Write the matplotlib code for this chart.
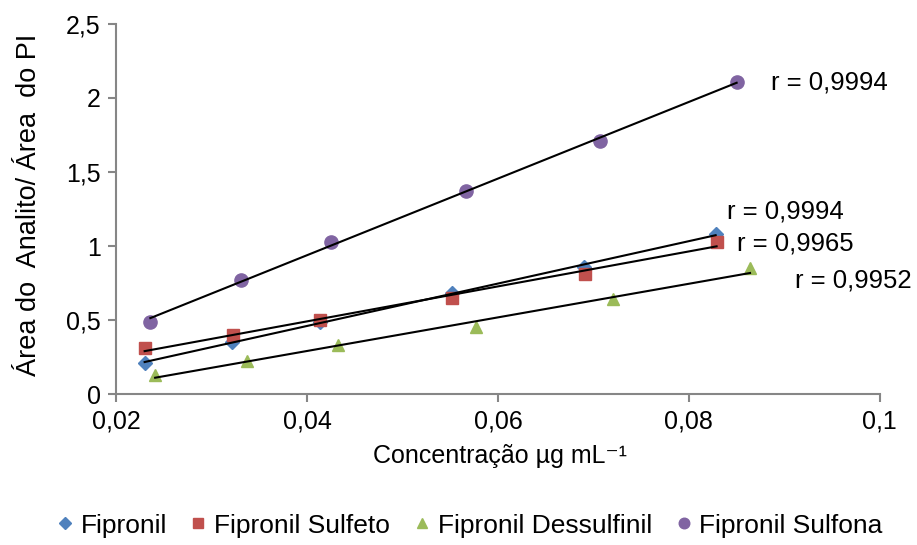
import matplotlib.pyplot as plt
import numpy as np

plt.rcParams['font.family'] = ['Liberation Sans', 'DejaVu Sans']

# concentracoes (ug/mL) e razao de areas analito/PI
x_fipronil = [0.0230, 0.0322, 0.0414, 0.0552, 0.0690, 0.0828]
y_fipronil = [0.21, 0.35, 0.49, 0.68, 0.86, 1.08]

x_sulfeto = [0.0230, 0.0323, 0.0414, 0.0552, 0.0691, 0.0829]
y_sulfeto = [0.31, 0.40, 0.50, 0.65, 0.81, 1.03]

x_dessulf = [0.0241, 0.0337, 0.0432, 0.0577, 0.0720, 0.0864]
y_dessulf = [0.13, 0.22, 0.33, 0.45, 0.64, 0.85]

x_sulfona = [0.0236, 0.0331, 0.0425, 0.0567, 0.0707, 0.0850]
y_sulfona = [0.49, 0.77, 1.03, 1.37, 1.71, 2.11]

r_labels = ['r = 0,9994', 'r = 0,9965', 'r = 0,9952', 'r = 0,9994']
label_pos = [(0.0840, 1.235), (0.0850, 1.015), (0.0911, 0.765), (0.0886, 2.105)]

series = [
    ('Fipronil', x_fipronil, y_fipronil, 'D', '#4F81BD', 7.5),
    ('Fipronil Sulfeto', x_sulfeto, y_sulfeto, 's', '#C0504D', 8.5),
    ('Fipronil Dessulfinil', x_dessulf, y_dessulf, '^', '#9BBB59', 9),
    ('Fipronil Sulfona', x_sulfona, y_sulfona, 'o', '#8064A2', 9.5),
]

fig = plt.figure(figsize=(9.17, 5.45), dpi=100)
ax = fig.add_axes([0.1265, 0.277, 0.833, 0.679])

for (name, xs, ys, mk, col, ms), lab, pos in zip(series, r_labels, label_pos):
    xs = np.array(xs)
    ys = np.array(ys)
    ax.plot(xs, ys, linestyle='none', marker=mk, color=col, markersize=ms,
            label=name, zorder=2)
    # reta de regressao linear sobre a faixa de cada serie
    a, b = np.polyfit(xs, ys, 1)
    ax.plot([xs[0], xs[-1]], [a * xs[0] + b, a * xs[-1] + b], color='black',
            lw=1.5, zorder=3)
    ax.text(pos[0], pos[1], lab, fontsize=18.5, ha='left', va='center',
            clip_on=False)

ax.set_xlim(0.02, 0.1)
ax.set_ylim(0, 2.5)
ax.set_xticks([0.02, 0.04, 0.06, 0.08, 0.1])
ax.set_xticklabels(['0,02', '0,04', '0,06', '0,08', '0,1'])
ax.set_yticks([0, 0.5, 1, 1.5, 2, 2.5])
ax.set_yticklabels(['0', '0,5', '1', '1,5', '2', '2,5'])

for s in ['top', 'right']:
    ax.spines[s].set_visible(False)
for s in ['left', 'bottom']:
    ax.spines[s].set_color('#868686')
    ax.spines[s].set_linewidth(1.5)
ax.tick_params(direction='out', length=6, width=1.5, color='#868686',
               labelsize=18, pad=5)

ax.set_xlabel('Concentração µg mL⁻¹', fontsize=18)
ax.xaxis.set_label_coords(0.502, -0.135)
ax.set_ylabel('Área do  Analito/ Área  do PI', fontsize=19.5)
ax.yaxis.set_label_coords(-0.097, 0.51)

fig.legend(loc='lower center', bbox_to_anchor=(0.513, -0.03), ncol=4,
           frameon=False, fontsize=19, handlelength=0.5, handletextpad=0.35,
           columnspacing=0.95, markerscale=0.8)

fig.savefig('out.png', dpi=100)
